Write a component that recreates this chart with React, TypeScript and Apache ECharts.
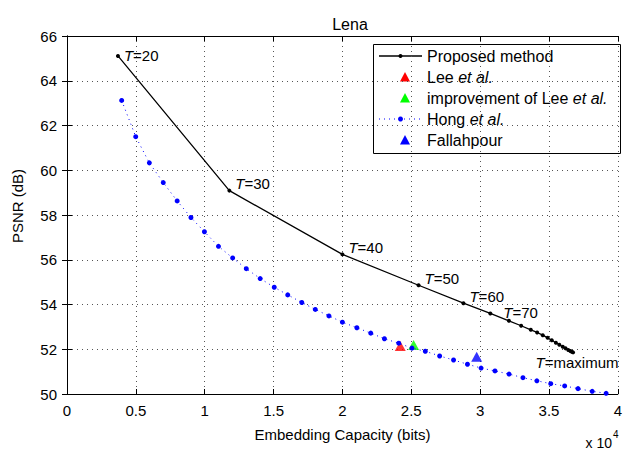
import React, { useEffect, useRef } from "react";
import * as echarts from "echarts";

// Proposed method: embedding capacity (bits) and PSNR (dB)
const proposedCapacity = [3700, 11790, 20000, 25530, 28790, 30740, 32090, 32980, 33680, 34140, 34550, 34900, 35200, 35500, 35750, 36000, 36200, 36400, 36550, 36650, 36750];
const proposedPsnr = [65.11, 59.09, 56.24, 54.86, 54.06, 53.60, 53.27, 53.05, 52.87, 52.75, 52.63, 52.51, 52.40, 52.29, 52.20, 52.11, 52.04, 51.97, 51.92, 51.89, 51.86];
const proposedLabels: { [k: number]: string } = { 0: "20", 1: "30", 2: "40", 3: "50", 4: "60", 5: "70", 20: "maximum" };

// Hong et al.
const hongCapacity = [3970, 4990, 5980, 6990, 8000, 9000, 9980, 11000, 12030, 13020, 14030, 15050, 16030, 17050, 18030, 19020, 20000, 21050, 22060, 23050, 24090, 25050, 26020, 27060, 28070, 29080, 30070, 31080, 32100, 33110, 34120, 35130, 36140, 37110, 38140, 39150];
const hongPsnr = [63.12, 61.50, 60.33, 59.45, 58.63, 57.89, 57.25, 56.60, 56.08, 55.60, 55.16, 54.77, 54.43, 54.09, 53.78, 53.49, 53.21, 52.96, 52.72, 52.47, 52.27, 52.05, 51.91, 51.70, 51.52, 51.33, 51.16, 51.03, 50.89, 50.73, 50.59, 50.46, 50.36, 50.24, 50.12, 50.03];

// Single points
const leePoint = [24200, 52.15];
const leeImprovedPoint = [25170, 52.19];
const fallahpourPoint = [29750, 51.66];

const xTicks = { min: 0, max: 40000, interval: 5000 };
const yTicks = { min: 50, max: 66, interval: 2 };

const FONT = "'Liberation Sans', Arial, Helvetica, sans-serif";

export default function App() {
  const ref = useRef<HTMLDivElement>(null);
  useEffect(() => {
    if (!ref.current) return;
    const chart = echarts.init(ref.current, undefined, { renderer: "svg" });

    const italic = { fontStyle: "italic", fontFamily: FONT, fontSize: 15, color: "#000" };
    const proposedData = proposedCapacity.map((c, i) => {
      const item: any = { value: [c, proposedPsnr[i]] };
      const lab = proposedLabels[i];
      if (lab !== undefined) {
        const base: any = {
          show: true,
          formatter: "{i|T}=" + lab,
          fontFamily: FONT,
          fontSize: 15,
          color: "#000",
          rich: { i: italic },
        };
        if (i === 20) {
          base.position = "bottom";
          base.distance = 0;
          base.offset = [4, 1];
        } else {
          base.position = "right";
          base.distance = 4;
          const dy = i === 0 ? 0 : i === 5 ? -1 : -7;
          const dx = i === 5 ? 7 : 0;
          base.offset = [dx, dy];
        }
        item.label = base;
      }
      return item;
    });

    const gridLine = { show: true, lineStyle: { color: "#555", type: [1, 4], width: 1 } };
    const axisLineBlack = { show: true, lineStyle: { color: "#000", width: 1 } };
    const tickIn = { show: true, inside: true, length: 5, lineStyle: { color: "#000" } };

    const legendX = 373;
    const legendY = 44;
    const rows = [56, 77, 98, 119, 140];
    const textX = 427;
    const lt = (y: number, text: string) => ({
      type: "text",
      x: textX,
      y,
      style: {
        text,
        fontFamily: FONT,
        fontSize: 16,
        fill: "#000",
        verticalAlign: "middle",
        align: "left",
        rich: { i: { fontStyle: "italic", fontFamily: FONT, fontSize: 16, fill: "#000" } },
      },
    });
    const tri = (y: number, color: string) => ({
      type: "polygon",
      shape: { points: [[405, y - 5], [410, y + 4.5], [400, y + 4.5]] },
      style: { fill: color, stroke: "none" },
    });

    chart.setOption({
      animation: false,
      backgroundColor: "#fff",
      title: {
        text: "Lena",
        left: 345,
        top: 11,
        textAlign: "center",
        textStyle: { fontFamily: FONT, fontSize: 16, fontWeight: "normal", color: "#000" },
      },
      grid: { left: 67, top: 36, width: 554, height: 358 },
      xAxis: [
        {
          type: "value",
          ...xTicks,
          position: "bottom",
          name: "Embedding Capacity (bits)",
          nameLocation: "middle",
          nameGap: 33,
          nameTextStyle: { fontFamily: FONT, fontSize: 15, color: "#000" },
          axisLine: axisLineBlack,
          axisTick: tickIn,
          axisLabel: {
            fontFamily: FONT,
            fontSize: 15,
            color: "#000",
            margin: 9,
            formatter: (v: number) => String(v / 10000),
          },
          splitLine: gridLine,
        },
        {
          type: "value",
          ...xTicks,
          position: "top",
          axisLine: axisLineBlack,
          axisTick: tickIn,
          axisLabel: { show: false },
          splitLine: { show: false },
        },
      ],
      yAxis: [
        {
          type: "value",
          ...yTicks,
          position: "left",
          name: "PSNR (dB)",
          nameLocation: "middle",
          nameGap: 42,
          nameTextStyle: { fontFamily: FONT, fontSize: 15, color: "#000", padding: [0, 0, 0, 18] },
          axisLine: axisLineBlack,
          axisTick: tickIn,
          axisLabel: { fontFamily: FONT, fontSize: 15, color: "#000", margin: 10 },
          splitLine: gridLine,
        },
        {
          type: "value",
          ...yTicks,
          position: "right",
          axisLine: axisLineBlack,
          axisTick: tickIn,
          axisLabel: { show: false },
          splitLine: { show: false },
        },
      ],
      series: [
        {
          name: "Proposed method",
          type: "line",
          data: proposedData,
          symbol: "circle",
          symbolSize: 4,
          itemStyle: { color: "#000" },
          lineStyle: { color: "#000", width: 1.3 },
          label: { show: false },
          z: 3,
        },
        {
          name: "Lee et al.",
          type: "scatter",
          data: [leePoint],
          symbol: "triangle",
          symbolSize: [11, 10],
          itemStyle: { color: "#ff0000" },
          z: 2,
        },
        {
          name: "improvement of Lee et al.",
          type: "scatter",
          data: [leeImprovedPoint],
          symbol: "triangle",
          symbolSize: [11, 10],
          itemStyle: { color: "#00ff00" },
          z: 2,
        },
        {
          name: "Hong et al.",
          type: "line",
          data: hongCapacity.map((c, i) => [c, hongPsnr[i]]),
          symbol: "circle",
          symbolSize: 5,
          itemStyle: { color: "#0000ff" },
          lineStyle: { color: "#0000ff", width: 1, type: [1, 4] },
          z: 3,
        },
        {
          name: "Fallahpour",
          type: "scatter",
          data: [fallahpourPoint],
          symbol: "triangle",
          symbolSize: [11, 10],
          itemStyle: { color: "#0000ff" },
          z: 3,
        },
      ],
      graphic: [
        {
          type: "group",
          z: 100,
          children: [
            {
              type: "rect",
              shape: { x: legendX + 0.5, y: legendY + 0.5, width: 247, height: 109 },
              style: { fill: "#fff", stroke: "#000", lineWidth: 1 },
            },
            { type: "line", shape: { x1: 379, y1: rows[0], x2: 422, y2: rows[0] }, style: { stroke: "#000", lineWidth: 1.3 } },
            { type: "circle", shape: { cx: 400.5, cy: rows[0], r: 2 }, style: { fill: "#000" } },
            lt(rows[0], "Proposed method"),
            tri(rows[1], "#ff0000"),
            lt(rows[1], "Lee {i|et al.}"),
            tri(rows[2], "#00ff00"),
            lt(rows[2], "improvement of Lee {i|et al.}"),
            { type: "line", shape: { x1: 379, y1: rows[3], x2: 422, y2: rows[3] }, style: { stroke: "#0000ff", lineWidth: 1, lineDash: [1, 4] } },
            { type: "circle", shape: { cx: 400.5, cy: rows[3], r: 2.5 }, style: { fill: "#0000ff" } },
            lt(rows[3], "Hong {i|et al.}"),
            tri(rows[4], "#0000ff"),
            lt(rows[4], "Fallahpour"),
          ],
        },
        {
          type: "text",
          x: 612,
          y: 443,
          style: { text: "x 10", fontFamily: FONT, fontSize: 14, fill: "#000", verticalAlign: "middle", align: "right" },
        },
        {
          type: "text",
          x: 613,
          y: 434,
          style: { text: "4", fontFamily: FONT, fontSize: 10, fill: "#000", verticalAlign: "middle", align: "left" },
        },
      ],
    });
    return () => chart.dispose();
  }, []);
  return <div ref={ref} style={{ width: 625, height: 452, position: "absolute", left: 0, top: 0 }} />;
}
